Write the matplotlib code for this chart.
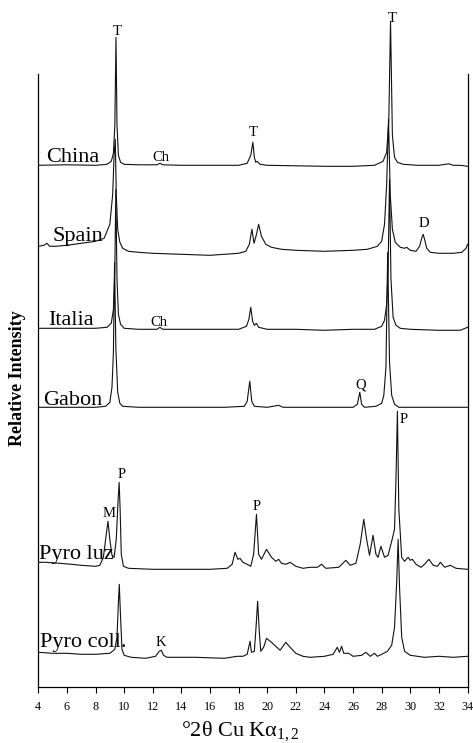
import numpy as np
import matplotlib
matplotlib.use("Agg")
from matplotlib import pyplot as plt

plt.rcParams['font.family'] = ['Liberation Serif', 'DejaVu Serif']
plt.rcParams['mathtext.fontset'] = 'custom'
plt.rcParams['mathtext.rm'] = 'Liberation Serif'
plt.rcParams['mathtext.it'] = 'Liberation Serif:italic'

# XRD patterns, 2theta (deg) vs intensity above each pattern's own baseline
china_tt = [4.0, 6.0, 8.0, 8.8, 9.1, 9.25, 9.35, 9.43, 9.5, 9.6, 9.75, 10.0, 11.0, 12.3, 12.5, 12.7,
            14.0, 16.0, 18.0, 18.6, 18.85, 19.0, 19.1, 19.2, 19.3, 19.5, 20.0, 22.0, 24.0, 26.0, 27.5,
            28.1, 28.35, 28.5, 28.62, 28.75, 28.9, 29.1, 29.5, 30.5, 32.0, 32.7, 33.0, 33.5, 34.0]
china_i = [0, 0.5, 0, 1, 4, 12, 40, 128, 40, 10, 3, 1, 0.5, 0.5, 2, 0.5,
           0, 0, 0, 2, 10, 23, 8, 3, 4, 1, 0, -0.5, -1, -1, 0,
           4, 13, 45, 144, 30, 8, 3, 1, 0, 0, 1.5, 0, 0, -1]

spain_tt = [4.0, 4.4, 4.6, 4.8, 5.2, 6.0, 7.0, 8.0, 8.6, 9.0, 9.2, 9.3, 9.38, 9.45, 9.55, 9.7, 9.9,
            10.3, 11.0, 12.0, 14.0, 16.0, 17.0, 18.0, 18.5, 18.75, 18.93, 19.08, 19.25, 19.4, 19.6,
            19.9, 20.3, 21.0, 22.0, 24.0, 26.0, 27.0, 27.7, 28.0, 28.2, 28.35, 28.48, 28.6, 28.75,
            28.95, 29.3, 29.6, 29.75, 30.0, 30.4, 30.65, 30.8, 30.9, 31.0, 31.15, 31.4, 32.0, 33.0,
            33.6, 33.9, 34.0]
spain_i = [8, 9, 11, 8, 8, 9, 11, 13, 16, 30, 60, 100, 115, 60, 25, 12, 6,
           3, 2, 1, 0, -1, 0, 1, 3, 10, 25, 11, 20, 30, 18,
           10, 7, 5, 4, 3, 4, 5, 8, 13, 30, 70, 135, 60, 25,
           12, 7, 6, 7, 4, 3, 8, 16, 20, 15, 6, 2, 1, 1,
           2, 6, 10]

italia_tt = [4.0, 6.0, 8.0, 8.8, 9.1, 9.25, 9.35, 9.42, 9.5, 9.6, 9.75, 10.0, 11.0, 12.3, 12.5, 12.7,
             14.0, 16.0, 18.0, 18.55, 18.72, 18.85, 18.98, 19.1, 19.25, 19.4, 20.0, 22.0, 24.0, 26.0,
             27.5, 28.0, 28.2, 28.35, 28.45, 28.55, 28.65, 28.8, 29.0, 29.3, 30.0, 32.0, 33.5, 34.0]
italia_i = [1, 1, 1, 2, 6, 20, 60, 140, 50, 15, 5, 1, 0, 0, 2, 0,
            0, 0, 0, 3, 10, 22, 8, 4, 6, 2, 0, 0, -1, 0,
            0, 3, 9, 25, 60, 150, 50, 12, 4, 1, 0, -1, -1, 2]

gabon_tt = [4.0, 6.0, 8.0, 8.7, 9.0, 9.15, 9.25, 9.33, 9.42, 9.55, 9.7, 9.9, 11.0, 14.0, 17.0, 18.4,
            18.6, 18.78, 18.92, 19.1, 20.0, 20.8, 21.1, 24.0, 26.0, 26.3, 26.47, 26.6, 26.8, 27.6,
            28.0, 28.15, 28.3, 28.42, 28.55, 28.7, 28.9, 29.2, 31.0, 34.0]
gabon_i = [0, 0, 0, 1, 5, 20, 55, 145, 60, 15, 4, 1, 0, 0, 0, 1,
           6, 26, 6, 1, 0, 2, 0, 0, 0, 3, 15, 3, 0, 1,
           4, 12, 40, 155, 45, 12, 3, 0, 0, 0]

luz_tt = [4.0, 4.5, 5.5, 6.3, 7.0, 8.0, 8.3, 8.55, 8.75, 8.87, 9.0, 9.15, 9.3, 9.45, 9.58, 9.65, 9.72,
          9.8, 9.95, 10.3, 12.0, 14.0, 16.0, 17.2, 17.55, 17.75, 17.95, 18.1, 18.3, 18.6, 18.85,
          19.05, 19.25, 19.4, 19.6, 19.95, 20.3, 20.6, 20.8, 21.0, 21.3, 21.6, 22.0, 22.5, 23.0,
          23.5, 23.8, 24.1, 25.0, 25.5, 25.8, 26.2, 26.5, 26.75, 26.95, 27.15, 27.4, 27.6, 27.75,
          27.95, 28.2, 28.45, 28.7, 28.9, 29.0, 29.1, 29.2, 29.4, 29.6, 29.85, 30.0, 30.15, 30.4,
          30.75, 31.0, 31.3, 31.6, 31.9, 32.1, 32.4, 32.8, 33.2, 34.0]
luz_i = [7, 7, 6, 5, 4, 3, 4, 12, 35, 48, 30, 14, 12, 30, 70, 87, 60,
         15, 3, 1, 0, 0, 0, 1, 5, 17, 10, 11, 7, 5, 3,
         15, 55, 15, 10, 20, 12, 8, 10, 6, 5, 7, 3, 1, 2,
         2, 5, 1, 2, 9, 4, 6, 25, 50, 30, 14, 34, 15, 12,
         23, 12, 14, 28, 40, 90, 158, 60, 12, 8, 12, 9, 10, 5,
         2, 5, 10, 4, 3, 7, 2, 4, 1, 0]

coll_tt = [4.0, 5.0, 6.0, 7.0, 8.0, 9.0, 9.35, 9.5, 9.6, 9.66, 9.75, 9.85, 10.0, 10.5, 11.5, 12.2,
           12.45, 12.6, 12.75, 13.0, 15.0, 17.0, 17.9, 18.3, 18.6, 18.8, 18.9, 19.1, 19.22, 19.33,
           19.45, 19.55, 19.75, 19.95, 20.3, 20.6, 20.9, 21.3, 21.6, 22.0, 22.5, 23.0, 24.0, 24.6,
           24.9, 25.05, 25.2, 25.35, 25.7, 26.0, 26.6, 26.9, 27.2, 27.5, 27.7, 28.0, 28.4, 28.7,
           28.9, 29.05, 29.15, 29.25, 29.4, 29.6, 30.0, 31.0, 32.0, 33.0, 34.0]
coll_i = [5, 4, 4, 3, 3, 4, 8, 20, 55, 73, 40, 8, 2, 0, -1, 1,
          6, 7, 2, 0, 0, -1, 1, 1, 3, 16, 5, 6, 30, 56,
          25, 6, 10, 19, 15, 11, 7, 15, 10, 4, 1, 0, 1, 3,
          10, 5, 11, 4, 4, 1, 2, 5, 1, 4, 1, 3, 6, 12,
          30, 75, 118, 70, 20, 6, 2, 0, 1, 0, 1]

names = ['China', 'Spain', 'Italia', 'Gabon', 'Pyro luz', 'Pyro coll.']
patterns = [(china_tt, china_i), (spain_tt, spain_i), (italia_tt, italia_i),
            (gabon_tt, gabon_i), (luz_tt, luz_i), (coll_tt, coll_i)]

# vertical stacking offsets and where each name goes
offsets = [522, 433, 358, 280, 118, 30]
name_pos = [(4.54, 525), (4.96, 446), (4.68, 362), (4.33, 282), (4.05, 128), (4.12, 40)]

# phase labels: T talc, Ch chlorite, D dolomite, Q quartz, P pyrophyllite, M mica, K kaolinite
phase_labels = [('T', 9.50, 656), ('T', 28.71, 669), ('Ch', 12.57, 530), ('T', 19.0, 555),
                ('D', 30.95, 464), ('Ch', 12.43, 365), ('Q', 26.55, 302), ('P', 29.55, 268),
                ('M', 8.94, 174), ('P', 9.85, 213), ('P', 19.28, 181), ('K', 12.57, 45)]

fig = plt.figure(figsize=(4.73, 7.43), dpi=100)
ax = fig.add_axes([38.3 / 473, 55.7 / 743, (467.5 - 38.3) / 473, 687.3 / 743])

for (tt, inten), off in zip(patterns, offsets):
    ax.plot(tt, np.array(inten) + off, color='#111111', lw=0.8)

for name, (x, y) in zip(names, name_pos):
    ax.text(x, y, name, fontsize=16, ha='left', va='baseline')

for lab, x, y in phase_labels:
    ax.text(x, y, lab, fontsize=10.5, ha='center', va='center')

ax.set_xlim(4, 34)
ax.set_ylim(0, 687.3)
ax.spines['top'].set_visible(False)
ax.spines['left'].set_bounds(0, 613)
ax.spines['right'].set_bounds(0, 613)
for s in ['left', 'right', 'bottom']:
    ax.spines[s].set_linewidth(0.9)
ax.set_yticks([])
ax.set_xticks(np.arange(4, 35, 2))
ax.tick_params(axis='x', direction='out', length=4, width=0.8, labelsize=8.7, pad=6)

fig.text(18 / 473, 1 - 378 / 743, 'Relative Intensity', rotation=90, fontsize=13,
         fontweight='bold', ha='center', va='center')
fig.text(240 / 473, 1 - 731 / 743, '°2θ Cu Kα$_{1,2}$', fontsize=16, ha='center', va='center')

fig.savefig('out.png', dpi=100)
